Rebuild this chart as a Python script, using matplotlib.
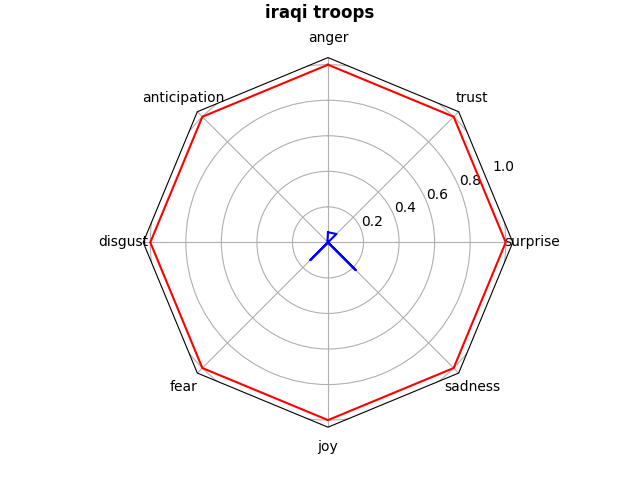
import numpy as np
import matplotlib
matplotlib.use('Agg')
import matplotlib.pyplot as plt
from matplotlib.patches import RegularPolygon
from matplotlib.path import Path
from matplotlib.projections.polar import PolarAxes
from matplotlib.projections import register_projection
from matplotlib.spines import Spine
from matplotlib.transforms import Affine2D

emotions = ['anger', 'anticipation', 'disgust', 'fear', 'joy', 'sadness', 'surprise', 'trust']
max_scores = [1.0, 1.0, 1.0, 1.0, 1.0, 1.0, 1.0, 1.0]
term_scores = [0.057, 0.005, 0.0, 0.14, 0.0, 0.22, 0.0, 0.067]
title = 'iraqi troops'


def radar_factory(num_vars):
    theta = np.linspace(0, 2 * np.pi, num_vars, endpoint=False)

    class RadarAxes(PolarAxes):
        name = 'radar'

        def __init__(self, *args, **kwargs):
            super().__init__(*args, **kwargs)
            self.set_theta_zero_location('N')

        def plot(self, *args, **kwargs):
            lines = super().plot(*args, **kwargs)
            for line in lines:
                x, y = line.get_data()
                if x[0] != x[-1]:
                    line.set_data(np.concatenate((x, [x[0]])), np.concatenate((y, [y[0]])))
            return lines

        def set_varlabels(self, labels):
            self.set_thetagrids(np.degrees(theta), labels)

        def _gen_axes_patch(self):
            return RegularPolygon((0.5, 0.5), num_vars, radius=.5, edgecolor="k")

        def _gen_axes_spines(self):
            spine = Spine(axes=self, spine_type='circle',
                          path=Path.unit_regular_polygon(num_vars))
            spine.set_transform(Affine2D().scale(.5).translate(.5, .5) + self.transAxes)
            return {'polar': spine}

    register_projection(RadarAxes)
    return theta


theta = radar_factory(len(emotions))
fig = plt.figure(figsize=(6.4, 4.8), dpi=100)
ax = fig.add_subplot(111, projection='radar')
ax.plot(theta, max_scores, color='red')
ax.plot(theta, term_scores, color='blue')
ax.set_varlabels(emotions)
ax.set_ylim(0, 1.04)
ax.set_rgrids([0.2, 0.4, 0.6, 0.8, 1.0])
ax.set_rlabel_position(-67.5)
fig.suptitle(title, fontweight='bold', y=0.9925)
plt.savefig('out.png')
